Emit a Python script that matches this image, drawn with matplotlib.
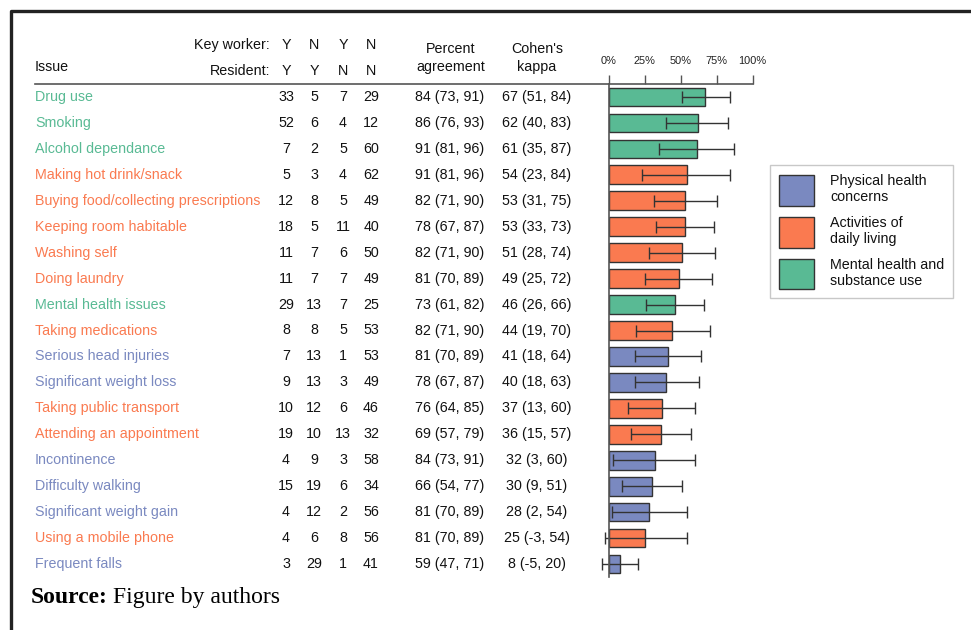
import matplotlib as mpl
import matplotlib.pyplot as plt
import matplotlib.transforms as mtransforms
from matplotlib.lines import Line2D
from matplotlib.patches import Patch

mpl.rcParams["font.family"] = ["Liberation Sans", "DejaVu Sans"]

issues = [
    "Drug use", "Smoking", "Alcohol dependance", "Making hot drink/snack",
    "Buying food/collecting prescriptions", "Keeping room habitable",
    "Washing self", "Doing laundry", "Mental health issues",
    "Taking medications", "Serious head injuries", "Significant weight loss",
    "Taking public transport", "Attending an appointment", "Incontinence",
    "Difficulty walking", "Significant weight gain", "Using a mobile phone",
    "Frequent falls",
]
groups = ["M", "M", "M", "A", "A", "A", "A", "A", "M", "A",
          "P", "P", "A", "A", "P", "P", "P", "A", "P"]

yy = [33, 52, 7, 5, 12, 18, 11, 11, 29, 8, 7, 9, 10, 19, 4, 15, 4, 4, 3]
ny = [5, 6, 2, 3, 8, 5, 7, 7, 13, 8, 13, 13, 12, 10, 9, 19, 12, 6, 29]
yn = [7, 4, 5, 4, 5, 11, 6, 7, 7, 5, 1, 3, 6, 13, 3, 6, 2, 8, 1]
nn = [29, 12, 60, 62, 49, 40, 50, 49, 25, 53, 53, 49, 46, 32, 58, 34, 56, 56, 41]

pa = [84, 86, 91, 91, 82, 78, 82, 81, 73, 82, 81, 78, 76, 69, 84, 66, 81, 81, 59]
pa_lo = [73, 76, 81, 81, 71, 67, 71, 70, 61, 71, 70, 67, 64, 57, 73, 54, 70, 70, 47]
pa_hi = [91, 93, 96, 96, 90, 87, 90, 89, 82, 90, 89, 87, 85, 79, 91, 77, 89, 89, 71]

kappa = [67, 62, 61, 54, 53, 53, 51, 49, 46, 44, 41, 40, 37, 36, 32, 30, 28, 25, 8]
k_lo = [51, 40, 35, 23, 31, 33, 28, 25, 26, 19, 18, 18, 13, 15, 3, 9, 2, -3, -5]
k_hi = [84, 83, 87, 84, 75, 73, 74, 72, 66, 70, 64, 63, 60, 57, 60, 51, 54, 54, 20]

group_colors = {"P": "#7A89C0", "A": "#FA7A50", "M": "#59BA94"}
group_names = {
    "P": "Physical health\nconcerns",
    "A": "Activities of\ndaily living",
    "M": "Mental health and\nsubstance use",
}

W, H = 971, 630


def fx(x):
    return x / W


def fy(y):
    return 1 - y / H


fig = plt.figure(figsize=(W / 100, H / 100), dpi=100)

# bar panel: 0% at x=609px, 1.4365 px per percent
ax_left, ax_right, ax_top, ax_bot = 609, 760, 84, 577
ax = fig.add_axes([fx(ax_left), fy(ax_bot), (ax_right - ax_left) / W, (ax_bot - ax_top) / H])
ax.set_xlim(0, (ax_right - ax_left) / 1.4365)
ax.set_ylim(len(issues) - 0.5, -0.5)

rows = list(range(len(issues)))
colors = [group_colors[g] for g in groups]
ax.barh(rows, kappa, height=0.72, color=colors, edgecolor="#333333", linewidth=1)
xerr = [[k - lo for k, lo in zip(kappa, k_lo)], [hi - k for k, hi in zip(kappa, k_hi)]]
eb = ax.errorbar(kappa, rows, xerr=xerr, fmt="none", ecolor="#333333",
                 elinewidth=1, capsize=4.2, capthick=1)
for a in list(eb.lines[1]) + list(eb.lines[2]):
    a.set_clip_on(False)

for side in ["right", "bottom", "top"]:
    ax.spines[side].set_visible(False)
ax.spines["left"].set_color("#555555")
ax.spines["left"].set_linewidth(1.2)
ax.xaxis.tick_top()
ax.set_xticks([0, 25, 50, 75, 100])
ax.set_xticklabels(["0%", "25%", "50%", "75%", "100%"])
ax.tick_params(axis="x", direction="out", length=6.5, width=1, color="#555555",
               labelsize=7.9, pad=6.5, labelcolor="#222222")
ax.set_yticks([])

# header rule
fig.add_artist(Line2D([fx(35), fx(753)], [fy(84), fy(84)], color="#555555", lw=1.2))

# table
tr = mtransforms.blended_transform_factory(fig.transFigure, ax.transData)
fs = 10.3
col_x = [286, 314, 343, 371]
for i in rows:
    c = group_colors[groups[i]]
    ax.text(fx(35), i, issues[i], color=c, fontsize=fs, ha="left", va="center", transform=tr)
    for x, v in zip(col_x, [yy[i], ny[i], yn[i], nn[i]]):
        ax.text(fx(x), i, str(v), fontsize=fs, ha="center", va="center", transform=tr,
                color="#111111")
    ax.text(fx(450), i, f"{pa[i]} ({pa_lo[i]}, {pa_hi[i]})", fontsize=fs, ha="center",
            va="center", transform=tr, color="#111111")
    ax.text(fx(537), i, f"{kappa[i]} ({k_lo[i]}, {k_hi[i]})", fontsize=fs, ha="center",
            va="center", transform=tr, color="#111111")

# header text
hc = "#111111"
fig.text(fx(270), fy(45), "Key worker:", fontsize=fs, ha="right", va="center", color=hc)
fig.text(fx(270), fy(71), "Resident:", fontsize=fs, ha="right", va="center", color=hc)
for x, k, r in zip(col_x, ["Y", "N", "Y", "N"], ["Y", "Y", "N", "N"]):
    fig.text(fx(x), fy(45), k, fontsize=fs, ha="center", va="center", color=hc)
    fig.text(fx(x), fy(71), r, fontsize=fs, ha="center", va="center", color=hc)
fig.text(fx(35), fy(67), "Issue", fontsize=fs, ha="left", va="center", color=hc)
fig.text(fx(451), fy(49), "Percent", fontsize=fs, ha="center", va="center", color=hc)
fig.text(fx(451), fy(67), "agreement", fontsize=fs, ha="center", va="center", color=hc)
fig.text(fx(537), fy(49), "Cohen's", fontsize=fs, ha="center", va="center", color=hc)
fig.text(fx(537), fy(67), "kappa", fontsize=fs, ha="center", va="center", color=hc)

# legend
handles = [Patch(facecolor=group_colors[g], edgecolor="#333333", linewidth=1)
           for g in ["P", "A", "M"]]
labels = [group_names[g] for g in ["P", "A", "M"]]
fpx = fs * 100 / 72
leg = fig.legend(handles, labels, loc="upper left", bbox_to_anchor=(fx(770), fy(165)),
                 fontsize=fs, frameon=True, fancybox=False, edgecolor="#bbbbbb",
                 handlelength=35 / fpx, handleheight=42 / fpx, labelspacing=10 / fpx,
                 handletextpad=16 / fpx, borderpad=9 / fpx, borderaxespad=0)
leg.get_frame().set_linewidth(1)
for t in leg.get_texts():
    t.set_color("#111111")

# source line
src = fig.text(fx(31), fy(603), "Source:", fontsize=17, fontweight="bold",
               family="Liberation Serif", va="baseline", ha="left")
fig.canvas.draw()
ext = src.get_window_extent(fig.canvas.get_renderer())
fig.text(ext.x1 / W + fx(5), fy(603), "Figure by authors", fontsize=17,
         family="Liberation Serif", va="baseline", ha="left")

# page frame
fig.add_artist(Line2D([fx(11), fx(11), 1], [0, fy(11), fy(11)], color="#222222", lw=2.4))

fig.savefig("out.png", dpi=100)
plt.close(fig)
